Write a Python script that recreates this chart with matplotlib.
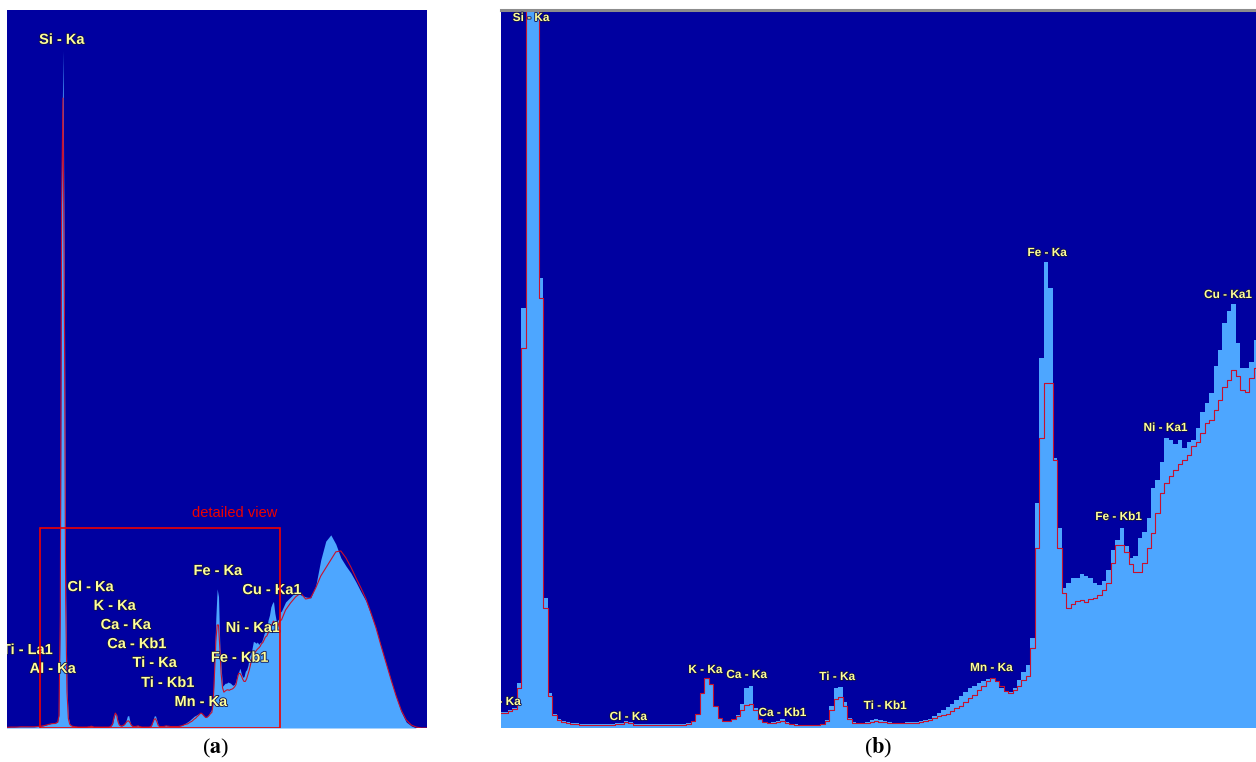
# -*- coding: utf-8 -*-
"""
EDS spectrum shown twice: full energy range (a) and detailed view (b)

Measured spectrum is the light blue area, the fitted spectrum the red line,
peak identifications are the yellow labels on the dark blue screen.
"""

import numpy as np
import matplotlib.pyplot as plt
from matplotlib import patheffects
from matplotlib.patches import Rectangle

plt.rcParams['mathtext.fontset'] = 'stix'

#  Colours
SCREEN_BLUE = '#0000a0'
SPECTRUM_BLUE = '#4da6ff'
FIT_RED = '#c8102e'
BOX_RED = '#ee0000'
LABEL_YELLOW = '#ffff9a'

#  Detailed channels, 1.48 keV to 8.28 keV in 0.04 keV steps
DETAIL_ENERGY = np.round(1.48 + 0.04 * np.arange(171), 2)

DETAIL_COUNTS = [16, 16, 18, 20, 45, 420, 1900, 2270, 1500, 450,
                 130, 35, 14, 9, 7, 6, 5, 5, 4, 4,
                 4, 4, 4, 4, 4, 4, 5, 5, 7, 6,
                 4, 4, 4, 4, 4, 4, 4, 4, 4, 4,
                 4, 4, 5, 7, 14, 35, 50, 44, 22, 10,
                 7, 7, 9, 13, 24, 40, 42, 20, 8, 6,
                 5, 6, 7, 9, 6, 4, 4, 3, 3, 3,
                 3, 3, 4, 8, 22, 40, 41, 26, 10, 6,
                 5, 5, 6, 8, 9, 8, 7, 6, 5, 5,
                 5, 6, 6, 6, 7, 8, 9, 12, 15, 18,
                 21, 24, 28, 32, 36, 40, 42, 45, 47, 49,
                 50, 46, 40, 36, 36, 40, 48, 56, 63, 90,
                 225, 370, 466, 440, 270, 200, 140, 145, 150, 150,
                 154, 152, 150, 145, 143, 147, 158, 178, 188, 200,
                 182, 170, 172, 190, 196, 210, 240, 248, 266, 290,
                 288, 284, 288, 280, 286, 288, 300, 316, 325, 335,
                 362, 378, 405, 417, 424, 385, 360, 360, 366, 388,
                 392]

DETAIL_FIT = [15, 15, 17, 19, 40, 380, 1750, 2110, 1450, 430,
              120, 32, 13, 8, 6, 5, 4, 4, 3, 3,
              3, 3, 3, 3, 3, 3, 4, 4, 6, 5,
              3, 3, 3, 3, 3, 3, 3, 3, 3, 3,
              3, 3, 4, 7, 14, 35, 50, 44, 22, 10,
              7, 7, 9, 12, 18, 23, 24, 18, 9, 6,
              5, 5, 6, 7, 5, 4, 3, 3, 3, 3,
              3, 3, 4, 7, 18, 29, 31, 22, 9, 5,
              5, 5, 5, 6, 7, 6, 6, 5, 5, 5,
              5, 5, 5, 5, 6, 7, 8, 10, 12, 13,
              14, 17, 20, 22, 26, 30, 33, 38, 42, 47,
              50, 47, 42, 37, 35, 38, 42, 48, 52, 80,
              180, 290, 345, 345, 268, 180, 135, 120, 124, 127,
              128, 126, 129, 130, 133, 138, 145, 165, 183, 183,
              176, 164, 156, 156, 165, 180, 195, 215, 235, 245,
              252, 258, 264, 268, 273, 282, 286, 295, 305, 308,
              318, 328, 341, 348, 358, 352, 338, 336, 350, 360,
              362]

#  Coarser channels outside the detailed range (only seen in (a))
LOW_ENERGY = np.round(0.1 * np.arange(15), 2)
LOW_COUNTS = [0, 2, 3, 3, 4, 4, 4, 4, 4, 4, 5, 6, 8, 12, 15]
LOW_FIT = [0, 2, 3, 3, 3, 4, 4, 4, 4, 4, 5, 6, 8, 11, 14]

HIGH_ENERGY = np.round(8.40 + 0.15 * np.arange(29), 2)
HIGH_COUNTS = [422, 439, 456, 446, 439, 436, 476, 563, 626, 647,
               616, 570, 543, 519, 489, 456, 425, 379, 332, 271,
               214, 157, 104, 54, 20, 7, 0, 0, 0]
HIGH_FIT = [395, 419, 439, 452, 432, 436, 469, 509, 536, 563,
            590, 593, 570, 539, 503, 469, 432, 385, 335, 275,
            218, 161, 107, 60, 27, 10, 3, 0, 0]

#  Peak labels: name, energy (keV), counts where the label sits
FULL_LABELS = ['Si - Ka', 'Ti - La1', 'Al - Ka', 'Cl - Ka', 'K - Ka',
               'Ca - Ka', 'Ca - Kb1', 'Ti - Ka', 'Ti - Kb1', 'Mn - Ka',
               'Fe - Ka', 'Fe - Kb1', 'Ni - Ka1', 'Cu - Ka1']
FULL_LABEL_ENERGY = [1.73, 0.70, 1.46, 2.59, 3.31, 3.64, 3.97, 4.50, 4.89,
                     5.88, 6.39, 7.04, 7.43, 8.00]
FULL_LABEL_COUNTS = [2305, 261, 198, 472, 409, 345, 281, 218, 151, 87,
                     526, 235, 335, 462]

DETAIL_LABELS = ['Si - Ka', 'Al - Ka', 'Cl - Ka', 'K - Ka', 'Ca - Ka',
                 'Ca - Kb1', 'Ti - Ka', 'Ti - Kb1', 'Mn - Ka', 'Fe - Ka',
                 'Fe - Kb1', 'Ni - Ka1', 'Cu - Ka1']
DETAIL_LABEL_ENERGY = [1.75, 1.49, 2.62, 3.31, 3.68, 4.00, 4.49, 4.92, 5.87,
                       6.37, 7.01, 7.43, 7.99]
DETAIL_LABEL_COUNTS = [710, 26, 11, 58, 53, 15, 51, 22, 60, 475, 211, 300,
                       433]

#  Range of the detailed view marked in (a)
BOX_ENERGY = (1.07, 8.24)
BOX_COUNTS = 670


def style_screen(axes):
    """Dark blue screen without ticks or frame"""
    axes.set_facecolor(SCREEN_BLUE)
    axes.set_xticks([])
    axes.set_yticks([])
    for spine in axes.spines.values():
        spine.set_visible(False)


def add_labels(axes, names, energies, counts, size):
    """Yellow peak labels, clipped to the screen"""
    for name, energy, count in zip(names, energies, counts):
        axes.text(energy, count, name, ha='center', va='center',
                  color=LABEL_YELLOW, fontsize=size, fontweight='bold',
                  family='Liberation Sans', clip_on=True,
                  path_effects=[patheffects.withStroke(linewidth=1.2,
                                                       foreground='#10104a')])


#  Main code

FULL_ENERGY = np.concatenate([LOW_ENERGY, DETAIL_ENERGY, HIGH_ENERGY])
FULL_COUNTS = np.concatenate([LOW_COUNTS, DETAIL_COUNTS, HIGH_COUNTS])
FULL_FIT = np.concatenate([LOW_FIT, DETAIL_FIT, HIGH_FIT])

FIGURE = plt.figure(figsize=(12.56, 7.62), dpi=100)

FULL_PLOT = FIGURE.add_axes([7 / 1256, 34 / 762, 420 / 1256, 718 / 762])
DETAIL_PLOT = FIGURE.add_axes([501 / 1256, 34 / 762, 755 / 1256, 718 / 762])

# (a) full spectrum
style_screen(FULL_PLOT)
FULL_PLOT.fill_between(FULL_ENERGY, FULL_COUNTS, color=SPECTRUM_BLUE, lw=0)
FULL_PLOT.plot(FULL_ENERGY, FULL_FIT, color=FIT_RED, lw=0.8)
FULL_PLOT.set_xlim(0.09, 12.62)
FULL_PLOT.set_ylim(0, 2405)

FULL_PLOT.add_patch(Rectangle((BOX_ENERGY[0], 0), BOX_ENERGY[1] - BOX_ENERGY[0],
                              BOX_COUNTS, fill=False, edgecolor=BOX_RED,
                              lw=1.2, zorder=4))
FULL_PLOT.text(6.89, 720, 'detailed view', ha='center', va='center',
               color=BOX_RED, fontsize=10.5, family='Liberation Sans')
add_labels(FULL_PLOT, FULL_LABELS, FULL_LABEL_ENERGY, FULL_LABEL_COUNTS, 10.5)

# (b) detailed view
style_screen(DETAIL_PLOT)
DETAIL_PLOT.fill_between(DETAIL_ENERGY, DETAIL_COUNTS, step='mid',
                         color=SPECTRUM_BLUE, lw=0)
DETAIL_PLOT.plot(DETAIL_ENERGY, DETAIL_FIT, color=FIT_RED, lw=0.8,
                 drawstyle='steps-mid')
DETAIL_PLOT.set_xlim(1.48, 8.24)
DETAIL_PLOT.set_ylim(0, 718)
DETAIL_PLOT.spines['top'].set_visible(True)
DETAIL_PLOT.spines['top'].set_color('#8c8c8c')
DETAIL_PLOT.spines['top'].set_linewidth(2.2)
add_labels(DETAIL_PLOT, DETAIL_LABELS, DETAIL_LABEL_ENERGY,
           DETAIL_LABEL_COUNTS, 8.5)

# captions
FIGURE.text(216 / 1256, 1 - 748 / 762, r'($\mathbf{a}$)', ha='center',
            va='center', fontsize=16, family='Liberation Serif')
FIGURE.text(878 / 1256, 1 - 748 / 762, r'($\mathbf{b}$)', ha='center',
            va='center', fontsize=16, family='Liberation Serif')

plt.savefig('out.png', dpi=100)
